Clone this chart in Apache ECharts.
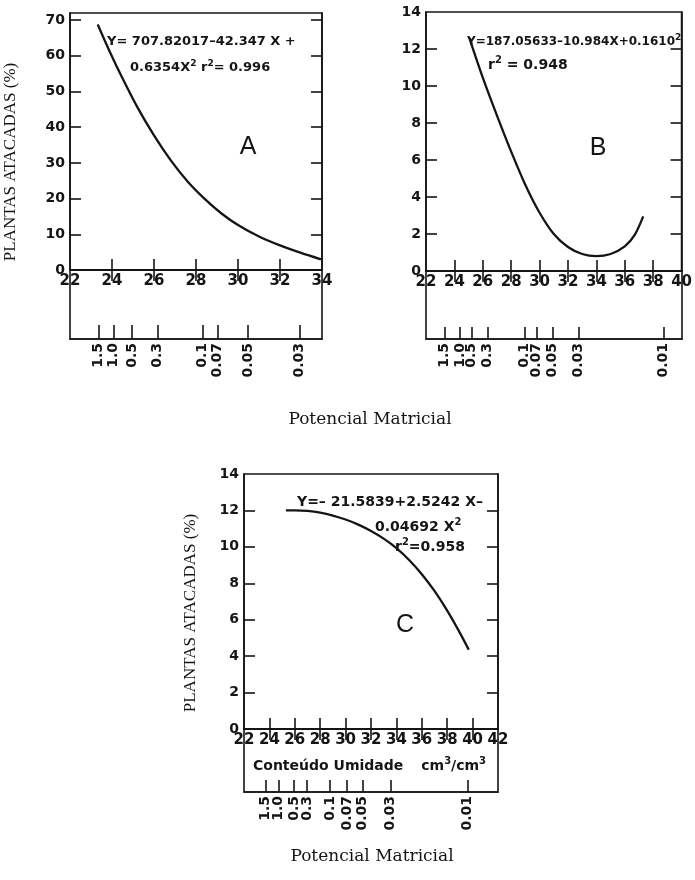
<!DOCTYPE html>
<html>
<head>
<meta charset="utf-8">
<script src="https://cdn.jsdelivr.net/npm/echarts@6/dist/echarts.min.js"></script>
<style>
html,body{margin:0;padding:0;background:#fff;}
#chart{width:695px;height:880px;}
</style>
</head>
<body>
<div id="chart"></div>
<script>
// ---- Data ----
// Panel A: moisture content (x) vs attacked plants (%)
const aX = [23.32, 23.9, 24.5, 25.2, 26.0, 26.8, 27.6, 28.4, 29.2, 30.0, 31.0, 32.0, 33.0, 33.95];
const aY = [68.8, 61.1, 53.7, 45.7, 37.7, 30.7, 24.8, 20.0, 15.9, 12.6, 9.4, 6.9, 4.8, 3.0];
// Panel B
const bX = [25.05, 26.0, 27.0, 28.0, 29.0, 30.0, 31.0, 32.0, 33.0, 34.0, 35.0, 36.0, 36.7, 37.3];
const bY = [12.6, 10.45, 8.4, 6.45, 4.65, 3.15, 2.0, 1.3, 0.92, 0.8, 0.92, 1.33, 1.95, 2.95];
// Panel C
const cX = [25.3, 26.0, 27.0, 28.0, 29.0, 30.0, 31.0, 32.0, 33.0, 34.0, 35.0, 36.0, 37.0, 38.0, 39.0, 39.7];
const cY = [12.0, 12.0, 11.97, 11.88, 11.72, 11.5, 11.22, 10.87, 10.45, 9.93, 9.28, 8.5, 7.58, 6.5, 5.28, 4.35];

// Main axis ticks
const aXTicks = [22, 24, 26, 28, 30, 32, 34];
const aYTicks = [0, 10, 20, 30, 40, 50, 60, 70];
const bXTicks = [22, 24, 26, 28, 30, 32, 34, 36, 38, 40];
const bYTicks = [0, 2, 4, 6, 8, 10, 12, 14];
const cXTicks = [22, 24, 26, 28, 30, 32, 34, 36, 38, 40, 42];
const cYTicks = [0, 2, 4, 6, 8, 10, 12, 14];

// Secondary scale: matric potential labels and their positions on the moisture axis
const aPotLabels = ['1.5', '1.0', '0.5', '0.3', '0.1', '0.07', '0.05', '0.03'];
const aPotPos = [23.37, 24.06, 24.95, 26.16, 28.30, 29.03, 30.48, 32.92];
const bPotLabels = ['1.5', '1.0', '0.5', '0.3', '0.1', '0.07', '0.05', '0.03', '0.01'];
const bPotPos = [23.29, 24.39, 25.21, 26.31, 28.91, 29.78, 30.91, 32.74, 38.69];
const cPotLabels = ['1.5', '1.0', '0.5', '0.3', '0.1', '0.07', '0.05', '0.03', '0.01'];
const cPotPos = [23.71, 24.70, 25.94, 26.96, 28.77, 30.11, 31.32, 33.56, 39.62];

const yTitle = 'PLANTAS ATACADAS (%)';
const xTitle = 'Potencial Matricial';
const moistTitle = 'Conteúdo Umidade';

// ---- Styling ----
const INK = '#151515';
const YLBL = {fontFamily: 'DejaVu Sans', fontWeight: 'bold', fontSize: 14, color: INK, showMinLabel: true, showMaxLabel: true};
const XLBL = {fontFamily: 'DejaVu Sans', fontWeight: 'bold', fontSize: 15, color: INK, showMinLabel: true, showMaxLabel: true};
const LINE = {show: true, lineStyle: {color: INK, width: 1.6}};

function inner(vals, len) {
  return {show: true, inside: true, length: len, customValues: vals, lineStyle: {color: INK, width: 1.6}};
}
function mainAxes(grid, xmin, xmax, ymin, ymax, xt, yt, innerXT, innerYT, tl) {
  const xs = [
    {type: 'value', gridIndex: grid, position: 'bottom', min: xmin, max: xmax, axisLine: LINE,
     axisTick: inner(innerXT, tl), splitLine: {show: false},
     axisLabel: Object.assign({customValues: xt, margin: 4}, XLBL)},
    {type: 'value', gridIndex: grid, position: 'top', min: xmin, max: xmax, axisLine: LINE,
     axisTick: inner(innerXT, tl), splitLine: {show: false}, axisLabel: {show: false}}
  ];
  const ys = [
    {type: 'value', gridIndex: grid, position: 'left', min: ymin, max: ymax, axisLine: LINE,
     axisTick: inner(innerYT, tl), splitLine: {show: false},
     axisLabel: Object.assign({customValues: yt, margin: 5}, YLBL)},
    {type: 'value', gridIndex: grid, position: 'right', min: ymin, max: ymax, axisLine: LINE,
     axisTick: inner(innerYT, tl), splitLine: {show: false}, axisLabel: {show: false}}
  ];
  return {xs, ys};
}
// The potential labels are split over two coincident axes (alternating) so that
// close neighbours are never dropped by the library's overlap handling.
function potAxes(grid, xmin, xmax, pos, labels, tl) {
  const fmt = v => { const i = pos.findIndex(p => Math.abs(p - v) < 1e-6); return i >= 0 ? labels[i] : ''; };
  const lbl = vals => ({customValues: vals, rotate: 90, margin: 4, fontFamily: 'DejaVu Sans', fontWeight: 'bold',
    fontSize: 14, color: INK, showMinLabel: true, showMaxLabel: true, hideOverlap: false, formatter: fmt});
  const even = pos.filter((_, i) => i % 2 === 0);
  const odd = pos.filter((_, i) => i % 2 === 1);
  return {
    xs: [
      {type: 'value', gridIndex: grid, position: 'bottom', offset: 0, min: xmin, max: xmax, axisLine: LINE,
       axisTick: inner(pos, tl), splitLine: {show: false}, axisLabel: lbl(even)},
      {type: 'value', gridIndex: grid, position: 'bottom', offset: 0, min: xmin, max: xmax, axisLine: {show: false},
       axisTick: {show: false}, splitLine: {show: false}, axisLabel: lbl(odd)}
    ],
    ys: [{type: 'value', gridIndex: grid, min: 0, max: 1, show: false}]
  };
}

const A = mainAxes(0, 22, 34, 0, 72, aXTicks, aYTicks, aXTicks.slice(1, -1), aYTicks.slice(1), 11);
const A2 = potAxes(1, 22, 34, aPotPos, aPotLabels, 14);
const B = mainAxes(2, 22, 40, 0, 14, bXTicks, bYTicks, bXTicks.slice(1, -1), bYTicks.slice(1, -1), 11);
const B2 = potAxes(3, 22, 40, bPotPos, bPotLabels, 12);
const C = mainAxes(4, 22, 42, 0, 14, cXTicks, cYTicks, cXTicks.slice(1, -1), cYTicks.slice(1, -1), 11);
const C2 = potAxes(5, 22, 42, cPotPos, cPotLabels, 12);

const box = {show: true, borderColor: INK, borderWidth: 1.6, backgroundColor: 'transparent'};
const grids = [
  Object.assign({left: 70, top: 13, width: 252, height: 257}, box),
  Object.assign({left: 70, top: 270, width: 252, height: 69}, box),
  Object.assign({left: 426, top: 12, width: 256, height: 259}, box),
  Object.assign({left: 426, top: 271, width: 256, height: 68}, box),
  Object.assign({left: 244, top: 474, width: 254, height: 255}, box),
  Object.assign({left: 244, top: 729, width: 254, height: 63}, box)
];

const xAxes = [].concat(A.xs, A2.xs, B.xs, B2.xs, C.xs, C2.xs);
const yAxes = [].concat(A.ys, A2.ys, B.ys, B2.ys, C.ys, C2.ys);
const xiA = xAxes.indexOf(A.xs[0]), yiA = yAxes.indexOf(A.ys[0]);
const xiB = xAxes.indexOf(B.xs[0]), yiB = yAxes.indexOf(B.ys[0]);
const xiC = xAxes.indexOf(C.xs[0]), yiC = yAxes.indexOf(C.ys[0]);

function curve(xs, ys, xi, yi) {
  return {type: 'line', xAxisIndex: xi, yAxisIndex: yi, smooth: 0.3, showSymbol: false, symbol: 'none',
    silent: true, lineStyle: {color: INK, width: 2.3}, data: xs.map((x, i) => [x, ys[i]])};
}

function richFor(sz) {
  return {
    n: {font: 'bold ' + sz + 'px "DejaVu Sans"', fill: INK, lineHeight: sz + 5},
    s: {font: 'bold ' + Math.round(sz * 0.72) + 'px "DejaVu Sans"', fill: INK, verticalAlign: 'top', lineHeight: sz + 5},
    g: {width: 18, lineHeight: sz + 5}
  };
}
function eq(x, y, text, sz) {
  return {type: 'text', x: x, y: y, silent: true,
    style: {text: text, rich: richFor(sz), font: 'bold ' + sz + 'px "DejaVu Sans"', fill: INK,
      align: 'left', verticalAlign: 'middle'}};
}
function letter(x, y, t) {
  return {type: 'text', x: x, y: y, silent: true,
    style: {text: t, font: 'normal 25px "Liberation Sans"', fill: INK, align: 'center', verticalAlign: 'middle'}};
}
function serif(x, y, t, rot, size, fam) {
  return {type: 'text', x: x, y: y, rotation: rot || 0, silent: true,
    style: {text: t, font: 'normal ' + size + 'px ' + fam, fill: INK, align: 'center', verticalAlign: 'middle'}};
}

const graphics = [
  eq(107, 42, '{n|Y= 707.82017–42.347 X +}', 13),
  eq(130, 68, '{n|0.6354X}{s|2}{n| r}{s|2}{n|= 0.996}', 13),
  letter(248, 147, 'A'),
  eq(467, 42, '{n|Y=187.05633–10.984X+0.1610}{s|2}', 12),
  eq(488, 65, '{n|r}{s|2}{n| = 0.948}', 14),
  letter(598, 148, 'B'),
  eq(297, 502, '{n|Y=– 21.5839+2.5242 X–}', 14),
  eq(375, 527, '{n|0.04692 X}{s|2}', 14),
  eq(395, 547, '{n|r}{s|2}{n|=0.958}', 14),
  letter(405, 625, 'C'),
  serif(11, 162, yTitle, Math.PI / 2, 17, '"Liberation Serif"'),
  serif(191, 613, yTitle, Math.PI / 2, 17, '"Liberation Serif"'),
  serif(370, 420, xTitle, 0, 17, '"DejaVu Serif"'),
  serif(372, 857, xTitle, 0, 17, '"DejaVu Serif"'),
  eq(253, 766, '{n|' + moistTitle + '}{g|}{n|cm}{s|3}{n|/cm}{s|3}', 14)
];

const chart = echarts.init(document.getElementById('chart'), null, {renderer: 'canvas'});
chart.setOption({
  animation: false,
  backgroundColor: '#fff',
  grid: grids,
  xAxis: xAxes,
  yAxis: yAxes,
  series: [
    curve(aX, aY, xiA, yiA),
    curve(bX, bY, xiB, yiB),
    curve(cX, cY, xiC, yiC)
  ],
  graphic: graphics
});
</script>
</body>
</html>
